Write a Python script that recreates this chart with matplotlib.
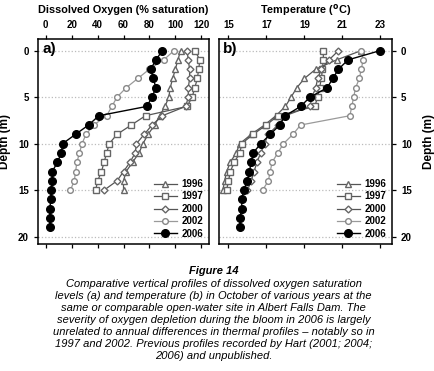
import numpy as np
import matplotlib
matplotlib.use('Agg')
import matplotlib.pyplot as plt

plt.rcParams['font.family'] = ['Liberation Sans', 'DejaVu Sans']

years = ['1996', '1997', '2000', '2002', '2006']

# dissolved oxygen (% saturation), one value per metre from the surface
do_1996 = [104, 102, 100, 98, 96, 95, 92, 88, 84, 79, 75, 72, 67, 62, 60, 60]
do_1997 = [115, 119, 118, 117, 115, 113, 109, 77, 66, 55, 49, 47, 45, 43, 40, 38.5]
do_2000 = [109, 110, 111, 111, 110, 110, 108, 90, 82, 76, 70, 69, 65, 60, 55, 45]
do_2002 = [99, 91, 80, 71, 62, 55, 51, 47, 37, 31, 28, 26, 24, 23, 22, 19]
do_2006 = [90, 85, 81, 83, 85, 82, 78, 41, 33, 23, 13, 12, 9, 5, 5, 4, 4, 3, 3, 3]

# temperature (deg C)
t_1996 = [22.0, 20.7, 19.6, 19.0, 18.6, 18.3, 18.0, 17.5, 16.9, 16.2, 15.6, 15.4, 15.1, 14.9, 14.8, 14.7]
t_1997 = [20.0, 20.0, 19.95, 19.9, 19.8, 19.7, 19.55, 17.6, 17.0, 16.3, 15.7, 15.6, 15.3, 15.1, 15.0, 14.9]
t_2000 = [20.8, 20.3, 19.9, 19.7, 19.6, 19.4, 19.3, 18.0, 17.6, 17.1, 16.9, 16.7, 16.5, 16.35, 16.2, 16.0]
t_2002 = [22.0, 22.1, 22.0, 21.9, 21.7, 21.6, 21.5, 21.4, 18.8, 18.4, 17.9, 17.6, 17.3, 17.2, 17.1, 16.8]
t_2006 = [23.0, 21.3, 20.8, 20.5, 20.2, 19.3, 18.8, 18.0, 17.7, 17.2, 16.7, 16.3, 16.2, 16.1, 16.0,
          15.8, 15.7, 15.7, 15.6, 15.6]

do_ticks = [0, 20, 40, 60, 80, 100, 120]
t_ticks = [15, 17, 19, 21, 23]
depth_ticks = [0, 5, 10, 15, 20]

caption = ("Comparative vertical profiles of dissolved oxygen saturation\n"
           "levels (a) and temperature (b) in October of various years at the\n"
           "same or comparable open-water site in Albert Falls Dam. The\n"
           "severity of oxygen depletion during the bloom in 2006 is largely\n"
           "unrelated to annual differences in thermal profiles \u2013 notably so in\n"
           "1997 and 2002. Previous profiles recorded by Hart (2001; 2004;\n"
           "2006) and unpublished.")

styles = {
    '1996': dict(marker='^', color='#555555', mfc='white', mec='#666666', ms=4.3, lw=0.9),
    '1997': dict(marker='s', color='#555555', mfc='white', mec='#666666', ms=3.9, lw=0.9),
    '2000': dict(marker='D', color='#555555', mfc='white', mec='#666666', ms=3.5, lw=0.9),
    '2002': dict(marker='o', color='#9a9a9a', mfc='white', mec='#888888', ms=4.1, lw=0.9),
    '2006': dict(marker='o', color='black', mfc='black', mec='black', ms=5.5, lw=1.0),
}

do_series = [do_1996, do_1997, do_2000, do_2002, do_2006]
t_series = [t_1996, t_1997, t_2000, t_2002, t_2006]

fig = plt.figure(figsize=(4.34, 3.71), dpi=100)
ax_a = fig.add_axes([0.0876, 0.342, 0.394, 0.553])
ax_b = fig.add_axes([0.5046, 0.342, 0.3986, 0.553])

for ax in (ax_a, ax_b):
    for d in depth_ticks:
        ax.axhline(d, color='#bbbbbb', ls=':', lw=0.9, zorder=0)
    ax.set_ylim(20.8, -1.25)
    ax.set_yticks(depth_ticks)
    for sp in ax.spines.values():
        sp.set_linewidth(1.1)
    ax.tick_params(labelsize=7, width=0.9, length=3, direction='out')

for yr, vals in zip(years, do_series):
    ax_a.plot(vals, np.arange(len(vals)), label=yr, **styles[yr])
for yr, vals in zip(years, t_series):
    ax_b.plot(vals, np.arange(len(vals)), label=yr, **styles[yr])

ax_a.set_xlim(-6, 126)
ax_a.set_xticks(do_ticks)
ax_a.tick_params(axis='x', top=True, labeltop=True, bottom=True, labelbottom=False)
ax_a.set_ylabel('Depth (m)', fontsize=8.5, fontweight='bold', labelpad=5)

ax_b.set_xlim(14.5, 23.62)
ax_b.set_xticks(t_ticks)
ax_b.tick_params(axis='x', top=True, labeltop=True, bottom=True, labelbottom=False)
ax_b.yaxis.tick_right()
ax_b.yaxis.set_label_position('right')
ax_b.set_ylabel('Depth (m)', fontsize=8.5, fontweight='bold', labelpad=8)

for ax in (ax_a, ax_b):
    for lab in ax.get_xticklabels() + ax.get_yticklabels():
        lab.set_fontweight('bold')
    ax.legend(loc='lower right', frameon=False, prop=dict(size=7, weight='bold'),
              handlelength=2.4, handletextpad=0.5, labelspacing=0.25,
              borderaxespad=0.15)

ax_a.text(0.025, 0.985, 'a)', transform=ax_a.transAxes, fontsize=11,
          fontweight='bold', va='top', ha='left')
ax_b.text(0.025, 0.985, 'b)', transform=ax_b.transAxes, fontsize=11,
          fontweight='bold', va='top', ha='left')

fig.text(0.284, 0.973, 'Dissolved Oxygen (% saturation)', fontsize=7.8,
         fontweight='bold', ha='center', va='center')
fig.text(0.703, 0.973, 'Temperature ($^{\\mathbf{o}}$C)', fontsize=7.8,
         fontweight='bold', ha='center', va='center')

fig.text(0.492, 0.270, 'Figure 14', fontsize=8, fontweight='bold',
         style='italic', ha='center', va='center')
fig.text(0.492, 0.1375, caption, fontsize=8, style='italic', ha='center',
         va='center', multialignment='center', linespacing=1.25)

fig.savefig('out.png', dpi=100)
